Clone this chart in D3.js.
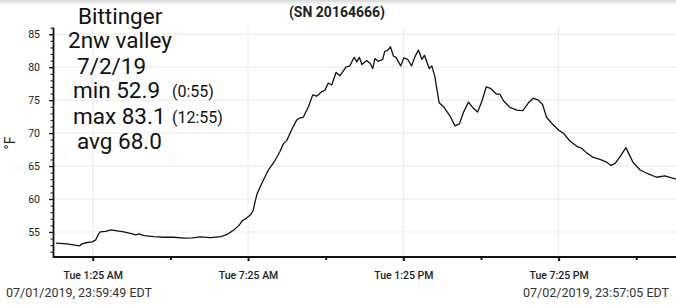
<!DOCTYPE html>
<html><head><meta charset="utf-8">
<script src="https://cdn.jsdelivr.net/npm/d3@7"></script>
<style>
body{margin:0;background:#fff;overflow:hidden;}
svg{display:block;font-family:Roboto, "Noto Sans", sans-serif;}
</style>
</head><body><svg id="c" width="676" height="306"></svg>
<script>
// ---------- data ----------
const times = ["00:00","00:25","00:55","01:00","01:12","01:24","01:32","01:37","01:42","01:55","02:07","02:18","02:37","02:57","03:05","03:12","03:24","03:47","04:10","04:33","04:57","05:16","05:35","05:58","06:22","06:37","06:52","07:04","07:12","07:23","07:31","07:37","07:41","07:46","07:57","08:12","08:27","08:39","08:47","08:55","09:06","09:18","09:25","09:33","09:45","09:55","10:04","10:16","10:23","10:31","10:39","10:49","10:58","11:12","11:21","11:31","11:37","11:43","11:49","12:00","12:08","12:14","12:19","12:27","12:37","12:42","12:48","12:55","13:02","13:08","13:19","13:26","13:35","13:44","13:52","14:00","14:08","14:14","14:25","14:31","14:38","14:48","14:58","15:13","15:25","15:35","15:44","15:56","16:07","16:17","16:27","16:37","16:47","17:01","17:09","17:17","17:32","17:48","18:02","18:15","18:26","18:38","18:48","18:57","19:09","19:26","19:36","19:51","20:07","20:18","20:30","20:45","21:01","21:16","21:26","21:36","21:45","22:01","22:09","22:18","22:34","22:53","23:12","23:31","23:47","23:57"];
const tempsF = [53.3,53.2,52.9,53.2,53.4,53.5,53.8,54.5,55.0,55.1,55.3,55.2,55.0,54.7,54.55,54.7,54.45,54.3,54.2,54.2,54.05,54.1,54.25,54.15,54.3,54.65,55.3,56.0,56.7,57.2,57.6,58.3,59.5,60.8,62.4,64.4,65.8,67.2,68.4,68.9,70.5,72.0,72.3,72.4,74.0,75.8,75.6,76.3,76.5,77.6,77.3,79.2,78.7,80.0,80.2,81.5,80.8,81.5,80.4,81.0,80.6,79.8,81.3,80.9,81.2,82.4,82.5,83.1,81.7,81.5,80.2,81.4,81.2,80.2,81.6,82.6,81.2,81.8,79.8,80.2,78.6,74.6,74.0,72.6,71.1,71.4,73.1,74.7,73.8,73.2,74.8,77.0,76.8,75.9,75.9,74.9,73.9,73.5,73.4,74.6,75.3,75.0,74.3,72.4,71.5,70.4,70.0,68.8,68.0,67.7,67.0,66.3,66.0,65.6,65.1,65.4,66.2,67.8,66.7,65.5,64.4,63.8,63.3,63.5,63.2,63.0];
const dayDate = "2019-07-02";
const domainStart = "2019-07-01 23:59:49";
const domainEnd = "2019-07-02 23:57:05";
const yDomain = [51.2, 86.1];
const yTicks = [55,60,65,70,75,80,85];
const yMinorTicks = d3.range(52, 87);
const xTickTimes = ["01:25","07:25","13:25","19:25"];
const xTickLabels = ["Tue 1:25 AM","Tue 7:25 AM","Tue 1:25 PM","Tue 7:25 PM"];
const xMinorTimes = ["04:25","10:25","16:25","22:25"];
const infoLines = ["Bittinger","2nw valley","7/2/19","min 52.9","max 83.1","avg 68.0"];
const infoNotes = ["","","","(0:55)","(12:55)",""];
const title = "(SN 20164666)";
const yLabel = "°F";
const startLabel = "07/01/2019, 23:59:49 EDT";
const endLabel = "07/02/2019, 23:57:05 EDT";

// ---------- drawing ----------
const svg = d3.select("#c");
const W = 676, H = 306;
const parseFull = d3.timeParse("%Y-%m-%d %H:%M:%S");
const parseHM = s => d3.timeParse("%Y-%m-%d %H:%M")(dayDate + " " + s);

const x = d3.scaleTime().domain([parseFull(domainStart), parseFull(domainEnd)]).range([56, 676]);
const y = d3.scaleLinear().domain(yDomain).range([257, 27]);
const axisX = 53;

// top shadow
const defs = svg.append("defs");
const g0 = defs.append("linearGradient").attr("id","sh").attr("x1",0).attr("y1",0).attr("x2",0).attr("y2",1);
g0.append("stop").attr("offset","0%").attr("stop-color","#d8d8d8");
g0.append("stop").attr("offset","100%").attr("stop-color","#ffffff");
svg.append("rect").attr("x",0).attr("y",0).attr("width",W).attr("height",5).attr("fill","url(#sh)");

// gridlines
svg.append("g").selectAll("line").data(yTicks).join("line")
  .attr("x1", axisX).attr("x2", W).attr("y1", d => y(d)).attr("y2", d => y(d))
  .attr("stroke", "#ebebeb").attr("stroke-width", 1);
svg.append("g").selectAll("line").data(xTickTimes).join("line")
  .attr("x1", d => x(parseHM(d))).attr("x2", d => x(parseHM(d)))
  .attr("y1", 27).attr("y2", 257)
  .attr("stroke", "#ebebeb").attr("stroke-width", 1);

// line
const data = times.map((t, i) => ({t: parseHM(t), v: tempsF[i]}));
svg.append("path").datum(data)
  .attr("fill", "none").attr("stroke", "#111").attr("stroke-width", 1.3)
  .attr("stroke-linejoin", "round")
  .attr("d", d3.line().x(d => x(d.t)).y(d => y(d.v)));

// y axis minor
svg.append("g").attr("transform", `translate(${axisX},0)`)
  .call(d3.axisLeft(y).tickValues(yMinorTicks).tickSize(2.5).tickFormat(""))
  .call(g => g.select(".domain").remove())
  .call(g => g.selectAll("line").attr("stroke", "#111").attr("stroke-width", 1));
// y axis major
const ya = svg.append("g").attr("transform", `translate(${axisX},0)`)
  .call(d3.axisLeft(y).tickValues(yTicks).tickSize(4).tickPadding(9).tickSizeOuter(0));
ya.select(".domain").attr("stroke", "#111").attr("stroke-width", 1.8);
ya.selectAll("line").attr("stroke", "#111").attr("stroke-width", 1.3);
ya.selectAll("text").attr("font-size", 10.5).attr("fill", "#222").attr("font-family", "Roboto, sans-serif");

// x axis
const xa = svg.append("g").attr("transform", "translate(0,257)")
  .call(d3.axisBottom(x).tickValues(xTickTimes.map(parseHM)).tickSize(4).tickSizeOuter(0)
    .tickFormat((d, i) => xTickLabels[i]));
xa.select(".domain").attr("stroke", "#111").attr("stroke-width", 2.2)
  .attr("d", `M${axisX},0H${W}`);
xa.selectAll("line").attr("stroke", "#111").attr("stroke-width", 2);
xa.selectAll("text").attr("y", 0).attr("dy", 0).attr("transform", "translate(0,22)")
  .attr("font-size", 10.5).attr("fill", "#222").attr("font-weight", 500).attr("font-family", "Roboto, sans-serif");
svg.append("g").attr("transform", "translate(0,257)")
  .call(d3.axisBottom(x).tickValues(xMinorTimes.map(parseHM)).tickSize(3).tickFormat(""))
  .call(g => g.select(".domain").remove())
  .call(g => g.selectAll("line").attr("stroke", "#111").attr("stroke-width", 2));

// title
svg.append("text").attr("x", 337).attr("y", 16.5).attr("text-anchor", "middle")
  .attr("font-size", 14).attr("font-weight", 700).attr("fill", "#222").text(title);

// y label
svg.append("text").attr("transform", "translate(15,143) rotate(-90)").attr("text-anchor", "middle")
  .attr("font-size", 14).attr("fill", "#222").text(yLabel);

// info block
const infoX = [78, 68, 77, 73, 73, 77];
const infoY = [24, 48, 73.5, 97.5, 123.5, 148.5];
infoLines.forEach((s, i) => {
  svg.append("text").attr("x", infoX[i]).attr("y", infoY[i])
    .attr("font-size", 22.5).attr("fill", "#111").text(s);
  if (infoNotes[i]) svg.append("text").attr("x", 172).attr("y", infoY[i] - 1)
    .attr("font-size", 16).attr("fill", "#111").text(infoNotes[i]);
});

// bottom range labels
svg.append("text").attr("x", 6).attr("y", 297).attr("font-size", 12.5).attr("fill", "#333").text(startLabel);
svg.append("text").attr("x", 669).attr("y", 297).attr("text-anchor", "end").attr("font-size", 12.5).attr("fill", "#333").text(endLabel);
</script>
</body></html>
